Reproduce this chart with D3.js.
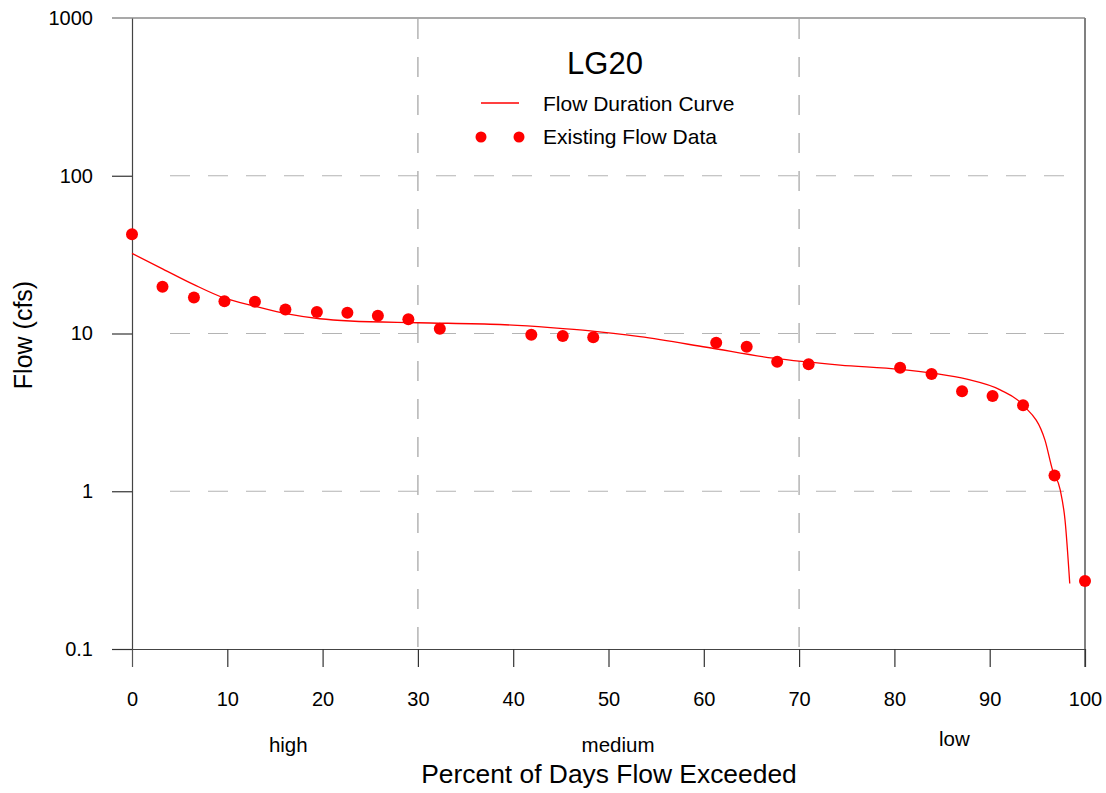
<!DOCTYPE html>
<html>
<head>
<meta charset="utf-8">
<script src="https://cdn.jsdelivr.net/npm/d3@7"></script>
<style>
  body { margin: 0; background: #fff; }
  svg { display: block; font-family: Arial, "Liberation Sans", sans-serif; }
</style>
</head>
<body>
<script>
// observed flow data (percent of days exceeded, flow cfs)
const pointPct = [0, 3.2, 6.5, 9.7, 12.9, 16.1, 19.4, 22.6, 25.8, 29.0, 32.3, 41.9, 45.2, 48.4,
                  61.3, 64.5, 67.7, 71.0, 80.6, 83.9, 87.1, 90.3, 93.5, 96.8, 100];
const pointFlow = [42.6, 19.8, 16.9, 16.0, 15.9, 14.2, 13.7, 13.55, 12.97, 12.3, 10.7, 9.83, 9.64, 9.46,
                   8.74, 8.25, 6.63, 6.38, 6.07, 5.54, 4.30, 4.02, 3.51, 1.26, 0.27];

// flow duration curve
const curvePct = [0, 3.25, 6.5, 9.65, 12.9, 16.3, 19.7, 22.9, 30, 38.6, 43.9, 48.1, 53.3, 60.3, 67.3,
                  74.3, 80.6, 84.1, 87.6, 91.1, 93.5, 95.8, 96.6, 97.4, 97.9, 98.4];
const curveFlow = [32.2, 25.6, 20.4, 16.8, 14.9, 13.3, 12.4, 12.0, 11.7, 11.4, 10.9, 10.4, 9.54, 8.18, 6.97,
                   6.31, 5.93, 5.59, 5.13, 4.39, 3.52, 2.11, 1.36, 1.02, 0.66, 0.26];

const xTicks = [0, 10, 20, 30, 40, 50, 60, 70, 80, 90, 100];
const yTicks = [0.1, 1, 10, 100, 1000];
const yGrid = [1, 10, 100];
const xGrid = [30, 70];
const flowClasses = [{label: "high", x: 16.4, y: 752}, {label: "medium", x: 51, y: 752}, {label: "low", x: 86.3, y: 746}];

const w = 1106, h = 793;
const padL = 132, padR = 1085, padT = 18, padB = 649;

const svg = d3.select("body").append("svg")
    .attr("width", w)
    .attr("height", h);

const x = d3.scaleLinear().domain([0, 100]).range([padL, padR]);
const y = d3.scaleLog().domain([0.1, 1000]).range([padB, padT]);

// grid
svg.append("g").selectAll("line")
    .data(yGrid)
    .enter().append("line")
    .attr("x1", 170).attr("x2", padR - 19)
    .attr("y1", d => y(d)).attr("y2", d => y(d))
    .attr("stroke", "#b4b4b4")
    .attr("stroke-width", 1.2)
    .attr("stroke-dasharray", "20,18");

svg.append("g").selectAll("line")
    .data(xGrid)
    .enter().append("line")
    .attr("x1", d => x(d)).attr("x2", d => x(d))
    .attr("y1", padT + 1).attr("y2", padB)
    .attr("stroke", "#b4b4b4")
    .attr("stroke-width", 1.5)
    .attr("stroke-dasharray", "20,18");

// frame: top and right
svg.append("line")
    .attr("x1", padL - 20).attr("x2", padR)
    .attr("y1", padT).attr("y2", padT)
    .attr("stroke", "#555").attr("stroke-width", 1.2);
svg.append("line")
    .attr("x1", padR).attr("x2", padR)
    .attr("y1", padT).attr("y2", padB + 18)
    .attr("stroke", "#808080").attr("stroke-width", 2);

// axes
const xAxis = d3.axisBottom(x).tickValues(xTicks).tickSize(18).tickSizeOuter(0).tickPadding(25);
const yAxis = d3.axisLeft(y).tickValues(yTicks).tickSize(20).tickSizeOuter(0).tickPadding(19)
    .tickFormat(d => String(d));

const gx = svg.append("g")
    .attr("transform", "translate(0," + padB + ")")
    .call(xAxis);
const gy = svg.append("g")
    .attr("transform", "translate(" + padL + ",0)")
    .call(yAxis);

[gx, gy].forEach(g => {
    g.selectAll("path").attr("stroke", "#444").attr("stroke-width", 1.2);
    g.selectAll("line").attr("stroke", "#333").attr("stroke-width", 1.2);
    g.selectAll("text").attr("font-size", 20).attr("fill", "#000")
        .attr("font-family", "Arial, 'Liberation Sans', sans-serif");
});
gy.selectAll(".tick").filter(d => d === 1000).select("line").remove();
gx.selectAll(".tick").filter(d => d === 0).select("line").attr("stroke", "#555");

// curve
const line = d3.line()
    .x(d => x(d[0]))
    .y(d => y(d[1]))
    .curve(d3.curveMonotoneX);

svg.append("path")
    .datum(curvePct.map((p, i) => [p, curveFlow[i]]))
    .attr("d", line)
    .attr("fill", "none")
    .attr("stroke", "#ff0000")
    .attr("stroke-width", 1.3);

// points
svg.append("g").selectAll("circle")
    .data(pointPct.map((p, i) => [p, pointFlow[i]]))
    .enter().append("circle")
    .attr("cx", d => x(d[0]))
    .attr("cy", d => y(d[1]))
    .attr("r", 6)
    .attr("fill", "#ff0000");

// title and legend
svg.append("text")
    .attr("x", 605).attr("y", 74)
    .attr("text-anchor", "middle")
    .attr("font-size", 31)
    .text("LG20");

svg.append("line")
    .attr("x1", 481).attr("x2", 519)
    .attr("y1", 103).attr("y2", 103)
    .attr("stroke", "#ff0000").attr("stroke-width", 1.3);
svg.append("text")
    .attr("x", 543).attr("y", 111)
    .attr("font-size", 21)
    .text("Flow Duration Curve");

svg.selectAll(".legdot")
    .data([481, 519])
    .enter().append("circle")
    .attr("class", "legdot")
    .attr("cx", d => d).attr("cy", 137)
    .attr("r", 5.5)
    .attr("fill", "#ff0000");
svg.append("text")
    .attr("x", 543).attr("y", 144)
    .attr("font-size", 21)
    .text("Existing Flow Data");

// flow classes
svg.append("g").selectAll("text")
    .data(flowClasses)
    .enter().append("text")
    .attr("x", d => x(d.x))
    .attr("y", d => d.y)
    .attr("text-anchor", "middle")
    .attr("font-size", 20.5)
    .text(d => d.label);

// axis titles
svg.append("text")
    .attr("x", 609).attr("y", 783)
    .attr("text-anchor", "middle")
    .attr("font-size", 26.4)
    .text("Percent of Days Flow Exceeded");

svg.append("text")
    .attr("transform", "translate(32,335) rotate(-90)")
    .attr("text-anchor", "middle")
    .attr("font-size", 25)
    .text("Flow (cfs)");
</script>
</body>
</html>
